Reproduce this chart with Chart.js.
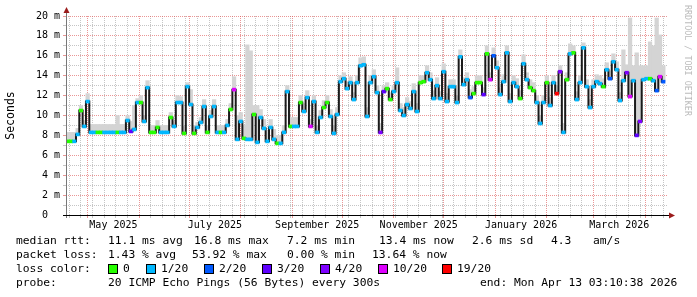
<!DOCTYPE html>
<html>
<head>
<meta charset="utf-8">
<script src="https://cdn.jsdelivr.net/npm/chart.js@4.4.1/dist/chart.umd.min.js"></script>
<style>
  html, body { margin: 0; padding: 0; background: #fff; }
  #wrap { position: relative; width: 697px; height: 297px; overflow: hidden; font-family: 'DejaVu Sans Mono', monospace; }
  #c { position: absolute; left: 0; top: 0; }
  .t { position: absolute; font-size: 11.3px; line-height: 14px; white-space: pre; color: #000; }
  .box { position: absolute; width: 10px; height: 10px; box-sizing: border-box; border: 1px solid #000; }
  #wm { position: absolute; left: 683px; top: 5px; writing-mode: vertical-rl; font-size: 8.4px; color: #bbb; white-space: pre; }
</style>
</head>
<body>
<div id="wrap">
  <canvas id="c" width="697" height="297"></canvas>
  <div id="legend"></div>
  <div id="wm">RRDTOOL / TOBI OETIKER</div>
</div>
<script>
// one value per 2-day bin, first bin starts Fri Apr 18 2025 (ms)
var median = [
  7.4,7.4,7.4,8.1,10.5,8.9,11.4,8.3,8.3,8.3,
  8.3,8.3,8.3,8.3,8.3,8.3,8.3,8.3,9.5,8.4,
  8.6,11.3,11.3,9.4,12.8,8.3,8.3,8.8,8.3,8.3,
  8.3,9.8,8.9,11.3,11.3,8.2,12.9,11.1,8.2,8.8,
  9.3,10.9,8.3,9.9,10.9,8.3,8.3,8.3,9.0,10.6,
  12.6,7.6,9.4,7.7,7.6,7.6,10.1,7.3,9.8,8.7,
  7.4,8.8,7.6,7.2,7.2,8.3,12.4,8.9,8.9,8.9,
  11.3,10.4,11.8,8.9,11.4,8.3,9.8,10.8,11.3,9.9,
  8.2,10.1,13.4,13.7,12.7,13.3,11.6,13.3,15.0,15.1,
  9.9,13.3,13.9,12.3,8.3,12.4,12.7,11.6,12.4,13.3,
  10.5,10.0,11.1,10.7,12.4,10.4,13.3,13.4,14.3,13.6,
  11.7,13.0,11.7,14.4,11.4,12.9,12.9,11.3,15.9,13.1,
  13.6,11.8,12.2,13.3,13.3,12.1,16.2,13.6,16.0,14.8,
  12.1,13.4,16.3,11.4,13.3,12.9,11.7,15.2,13.6,12.8,
  12.5,11.3,9.2,11.3,13.3,11.0,13.3,12.2,14.4,8.3,
  13.6,16.2,16.3,11.6,13.3,16.8,12.9,10.8,12.9,13.4,
  13.2,12.9,14.6,13.7,15.4,14.6,11.5,13.5,14.3,11.9,
  13.5,8.0,9.4,13.6,13.7,13.7,13.5,12.5,13.9,13.4
];
// upper edge of the grey smoke
var smokeTop = [
  8.3,8.3,8.3,8.7,11.0,9.5,12.2,9.1,9.1,9.1,
  9.1,9.1,9.1,9.1,9.1,10.0,9.1,9.1,10.0,9.4,
  11.0,11.7,12.0,10.0,13.5,9.0,9.0,9.5,9.0,9.0,
  9.0,10.3,9.4,12.0,11.9,8.9,13.3,12.6,9.0,9.3,
  9.8,11.6,9.0,10.5,11.6,9.0,9.0,9.0,9.6,11.2,
  13.9,10.0,10.3,9.0,17.1,16.5,11.0,11.0,10.6,9.6,
  8.4,9.6,8.6,8.0,8.0,9.0,13.0,9.8,9.8,9.8,
  12.0,11.2,12.5,9.6,12.0,9.0,10.5,11.5,12.0,10.6,
  9.0,10.8,14.0,14.3,13.4,13.9,12.3,14.0,15.8,15.9,
  10.8,14.0,14.6,13.0,9.2,13.0,13.3,12.3,13.0,14.8,
  11.2,10.8,11.8,11.4,13.2,11.2,14.0,14.0,15.0,14.3,
  12.5,13.8,12.4,15.2,12.2,13.6,13.6,12.0,16.6,13.8,
  14.3,12.6,12.9,14.0,14.0,12.8,17.0,14.3,16.8,15.5,
  12.8,14.1,17.0,12.2,14.0,13.7,12.5,16.1,14.3,13.6,
  13.3,12.0,10.0,12.0,14.0,11.8,14.0,13.0,15.0,9.2,
  14.3,17.2,17.0,12.4,14.0,17.3,13.6,11.6,13.6,14.1,
  14.0,13.7,15.3,14.5,16.2,15.4,12.3,16.6,15.1,19.8,
  15.0,16.3,15.0,15.0,15.0,17.4,17.0,19.8,18.1,15.0
];
// index into lossColors for each bin
var lossIdx = [
  0,0,1,1,0,1,1,1,1,0,
  0,1,1,1,1,0,1,1,1,3,
  1,1,0,1,1,0,0,0,1,1,
  1,0,1,1,1,0,1,1,0,1,
  1,1,0,1,1,1,0,1,1,0,
  5,1,1,0,1,1,0,1,1,1,
  1,1,1,0,1,1,1,0,1,1,
  0,1,1,5,1,1,1,0,0,1,
  1,1,1,1,1,1,1,1,1,1,
  1,1,1,1,4,3,0,0,1,1,
  1,1,1,1,1,1,0,0,1,1,
  1,1,1,1,1,1,1,1,1,1,
  1,2,0,0,0,3,0,5,2,1,
  1,1,1,1,1,1,0,1,1,0,
  0,1,1,1,0,1,1,6,4,1,
  0,1,0,1,1,1,1,1,1,1,
  1,0,1,2,1,1,1,1,4,5,
  1,3,4,1,1,0,1,2,5,2
];
var lossColors = ['#26ff00','#00b8ff','#0059ff','#5e00ff','#7e00ff','#dd00ff','#ff0000'];
var lossLabels = ['0','1/20','2/20','3/20','4/20','10/20','19/20'];
var monthNames = ['January','February','March','April','May','June','July','August','September','October','November','December'];

var startDate = Date.UTC(2025, 3, 18);
var binDays = 2;

function dayOf(y, m, d) {
    return (Date.UTC(y, m, d) - startDate) / 864e5;
}

// x ticks: red line at each month start, grey at each sunday, label mid month
var tickInfo = {};
for (var s = 2; s < 361; s += 7) {
    tickInfo[s] = {grid: 'minor', label: ''};
}
for (var k = 0; k < 12; k++) {
    var yr = 2025 + Math.floor((4 + k) / 12), mo = (4 + k) % 12;
    var d0 = dayOf(yr, mo, 1), d1 = dayOf(yr, mo + 1, 1);
    tickInfo[d0] = {grid: 'major', label: ''};
    if (k % 2 == 0) {
        var mid = d0 + (d1 - d0) / 2;
        if (tickInfo[mid]) tickInfo[mid].label = monthNames[mo] + ' ' + yr;
        else tickInfo[mid] = {grid: null, label: monthNames[mo] + ' ' + yr};
    }
}

var redGrid = 'rgba(220,80,80,0.6)';
var grayGrid = 'rgba(150,150,150,0.55)';

var smokeData = [], lineData = [], capData = [], capColors = [];
median.forEach(function(m, i) {
    var x = i * binDays + binDays / 2;
    smokeData.push({x: x, y: [m, smokeTop[i]]});
    lineData.push({x: x, y: m});
    capData.push({x: x, y: [m - 0.15, m + 0.15]});
    capColors.push(lossColors[lossIdx[i]]);
});

var axisPlugin = {
    id: 'rrdAxes',
    afterDatasetsDraw: function(chart) {
        var a = chart.chartArea, ctx = chart.ctx;
        ctx.save();
        ctx.lineWidth = 1;
        ctx.strokeStyle = '#777';
        ctx.beginPath();
        ctx.moveTo(a.left + 0.5, a.bottom + 3);
        ctx.lineTo(a.left + 0.5, a.top - 5);
        ctx.stroke();
        ctx.strokeStyle = '#000';
        ctx.beginPath();
        ctx.moveTo(a.left - 3, a.bottom + 0.5);
        ctx.lineTo(a.right + 3, a.bottom + 0.5);
        ctx.stroke();
        ctx.fillStyle = '#9b1c1c';
        ctx.beginPath();
        ctx.moveTo(a.left + 0.5, a.top - 9);
        ctx.lineTo(a.left - 2.5, a.top - 3);
        ctx.lineTo(a.left + 3.5, a.top - 3);
        ctx.fill();
        ctx.beginPath();
        ctx.moveTo(a.right + 8, a.bottom + 0.5);
        ctx.lineTo(a.right + 2, a.bottom - 2.5);
        ctx.lineTo(a.right + 2, a.bottom + 3.5);
        ctx.fill();
        ctx.restore();
    }
};

Chart.defaults.font.family = "'DejaVu Sans Mono', monospace";
Chart.defaults.color = '#000';

new Chart(document.getElementById('c').getContext('2d'), {
    type: 'bar',
    data: {
        datasets: [{
            label: 'smoke',
            data: smokeData,
            backgroundColor: '#d4d4d4',
            borderWidth: 0,
            grouped: false,
            barThickness: 3.6,
            order: 3
        }, {
            type: 'line',
            label: 'median',
            data: lineData,
            borderColor: '#1a1a1a',
            borderWidth: 2,
            stepped: 'middle',
            pointRadius: 0,
            order: 2
        }, {
            label: 'loss',
            data: capData,
            backgroundColor: capColors,
            borderWidth: 0,
            grouped: false,
            barThickness: 3.4,
            order: 1
        }]
    },
    options: {
        responsive: false,
        animation: false,
        events: [],
        layout: {padding: {left: 0, right: 30, top: 16, bottom: 62}},
        plugins: {legend: {display: false}, tooltip: {enabled: false}},
        scales: {
            x: {
                type: 'linear',
                min: 0,
                max: 361.2,
                offset: false,
                afterBuildTicks: function(scale) {
                    scale.ticks = Object.keys(tickInfo).map(Number)
                        .sort(function(a, b) { return a - b; })
                        .map(function(v) { return {value: v}; });
                },
                afterFit: function(scale) { scale.height = 20; },
                grid: {
                    offset: false,
                    tickLength: 3,
                    color: function(ctx) {
                        var t = ctx.tick && tickInfo[ctx.tick.value];
                        if (!t || !t.grid) return 'rgba(0,0,0,0)';
                        return t.grid == 'major' ? redGrid : grayGrid;
                    }
                },
                border: {display: false, dash: [1, 1]},
                ticks: {
                    autoSkip: false,
                    maxRotation: 0,
                    padding: 1,
                    font: {size: 10},
                    callback: function(v) {
                        var t = tickInfo[v];
                        return t ? t.label : '';
                    }
                }
            },
            y: {
                min: 0,
                max: 20,
                afterFit: function(scale) { scale.width = 66; },
                grid: {
                    tickLength: 3,
                    color: function(ctx) {
                        return ctx.tick.value % 2 == 0 ? redGrid : grayGrid;
                    }
                },
                border: {display: false, dash: [1, 1]},
                ticks: {
                    stepSize: 1,
                    autoSkip: false,
                    padding: 3,
                    font: {size: 10},
                    callback: function(v) {
                        if (v % 2 != 0) return '';
                        return v == 0 ? '0  ' : v + ' m';
                    }
                },
                title: {
                    display: true,
                    text: 'Seconds',
                    font: {size: 11.5},
                    padding: {top: 4, bottom: 0}
                }
            }
        }
    },
    plugins: [axisPlugin]
});

// legend under the graph
var legendRows = [
    [[16, 'median rtt:'], [108, '11.1 ms avg'], [194, '16.8 ms max'], [287, '7.2 ms min'], [379, '13.4 ms now'], [472, '2.6 ms sd'], [551, '4.3'], [593, 'am/s']],
    [[16, 'packet loss:'], [108, '1.43 % avg'], [192, '53.92 % max'], [287, '0.00 % min'], [372, '13.64 % now']],
    [[16, 'loss color:']],
    [[16, 'probe:'], [108, '20 ICMP Echo Pings (56 Bytes) every 300s'], [480, 'end: Mon Apr 13 03:10:38 2026']]
];
var rowTop = [234, 248, 262, 276];
var lossBoxX = [108, 146, 204, 262, 320, 378, 442];

var html = '';
legendRows.forEach(function(row, r) {
    row.forEach(function(p) {
        html += '<div class="t" style="left:' + p[0] + 'px;top:' + rowTop[r] + 'px">' + p[1] + '</div>';
    });
});
lossBoxX.forEach(function(bx, i) {
    html += '<div class="box" style="left:' + bx + 'px;top:' + (rowTop[2] + 2) + 'px;background:' + lossColors[i] + '"></div>';
    html += '<div class="t" style="left:' + (bx + 15) + 'px;top:' + rowTop[2] + 'px">' + lossLabels[i] + '</div>';
});
document.getElementById('legend').innerHTML = html;
</script>
</body>
</html>
